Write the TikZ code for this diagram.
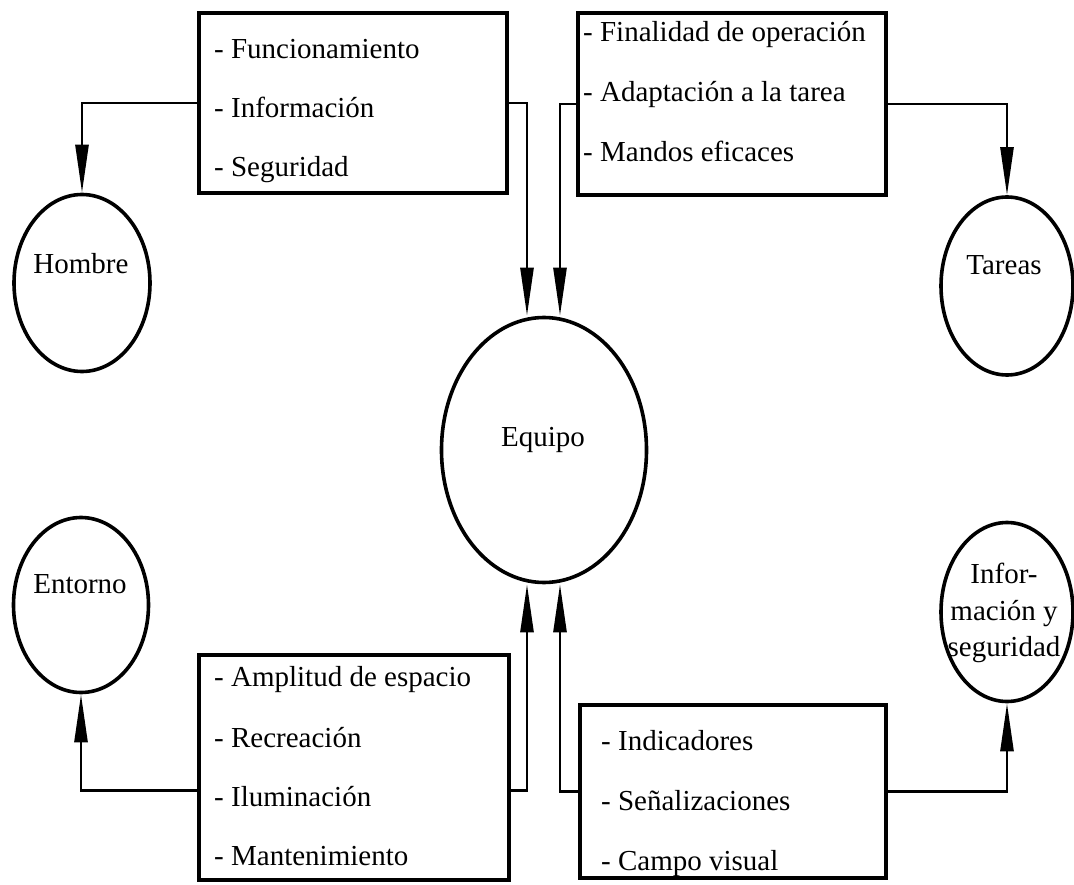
\documentclass[tikz,border=0pt]{standalone}
\usepackage{fontspec}
\setmainfont{Liberation Serif}
\usetikzlibrary{arrows.meta,shapes.geometric,calc}

\tikzset{
  bubble/.style={ellipse, draw, line width=3.6pt, inner sep=0pt},
  itembox/.style={rectangle, draw, line width=4pt, inner sep=0pt},
  item/.style={inner sep=0pt, anchor=base west},
  ctext/.style={inner sep=0pt, anchor=base},
  link/.style={line width=2.6pt, -{Triangle[length=48pt, width=13pt]}},
}

\begin{document}
\begin{tikzpicture}[x=1pt, y=-1pt, font=\fontsize{29}{36}\selectfont]
\useasboundingbox (0,0) rectangle (1074,885);

% ellipses
\node[bubble, minimum width=136pt, minimum height=177pt] (hombre)  at (82,283)   {};
\node[bubble, minimum width=132pt, minimum height=178pt] (tareas)  at (1007,286) {};
\node[bubble, minimum width=205pt, minimum height=265pt] (equipo)  at (544,450)  {};
\node[bubble, minimum width=135pt, minimum height=175pt] (entorno) at (81,605)   {};
\node[bubble, minimum width=132pt, minimum height=179pt] (info)    at (1007,612) {};

\node[ctext] (hombreT)  at (81,274)  {Hombre};
\node[ctext] (tareasT)  at (1004,275) {Tareas};
\node[ctext] (equipoT)  at (543,446) {Equipo};
\node[ctext] (entornoT) at (80,593)  {Entorno};
\node[ctext] (infoA) at (1004,583) {Infor-};
\node[ctext] (infoB) at (1004,620) {mación y};
\node[ctext] (infoC) at (1004,656) {seguridad};

% boxes
\node[itembox, minimum width=308pt, minimum height=180pt] (tlbox) at (353,103)   {};
\node[itembox, minimum width=308pt, minimum height=182pt] (trbox) at (732,104)   {};
\node[itembox, minimum width=310pt, minimum height=225pt] (blbox) at (354,767.5) {};
\node[itembox, minimum width=306pt, minimum height=173pt] (brbox) at (733,791.5) {};

\node[item] (tl1) at (214,59)  {- Funcionamiento};
\node[item] (tl2) at (214,118) {- Información};
\node[item] (tl3) at (214,177) {- Seguridad};

\node[item] (tr1) at (583,42)  {- Finalidad de operación};
\node[item] (tr2) at (583,102) {- Adaptación a la tarea};
\node[item] (tr3) at (583,162) {- Mandos eficaces};

\node[item] (bl1) at (214,686) {- Amplitud de espacio};
\node[item] (bl2) at (214,747) {- Recreación};
\node[item] (bl3) at (214,806) {- Iluminación};
\node[item] (bl4) at (214,865) {- Mantenimiento};

\node[item] (br1) at (601,750) {- Indicadores};
\node[item] (br2) at (601,810) {- Señalizaciones};
\node[item] (br3) at (601,870) {- Campo visual};

% connectors
\draw[link] (tlbox.west) -| (hombre.north);
\draw[link] (tlbox.east) -| ([xshift=-17pt]equipo.north);
\draw[link] (trbox.west) -| ([xshift=16pt]equipo.north);
\draw[link] (trbox.east) -| (tareas.north);
\coordinate (blmidW) at ($(blbox.west)+(0,23)$);
\coordinate (blmidE) at ($(blbox.east)+(0,23)$);
\draw[link] (blmidW) -| (entorno.south);
\draw[link] (blmidE) -| ([xshift=-17pt]equipo.south);
\draw[link] (brbox.west) -| ([xshift=16pt]equipo.south);
\draw[link] (brbox.east) -| (info.south);
\end{tikzpicture}
\end{document}
